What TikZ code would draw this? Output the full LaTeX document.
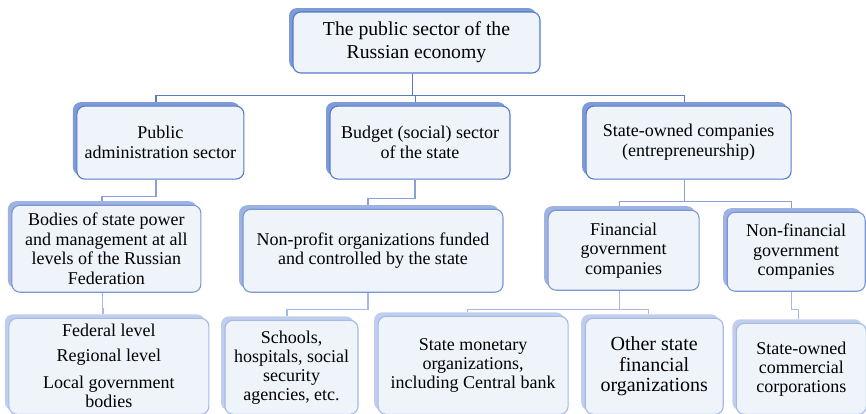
\documentclass[tikz,border=0pt]{standalone}
\usepackage{fontspec}
\setmainfont{Liberation Serif}
\usetikzlibrary{positioning,shadows}
\definecolor{paleblue}{RGB}{239,243,250}
\definecolor{darkedge}{RGB}{86,122,200}
\definecolor{darkshade}{RGB}{125,155,215}
\definecolor{midedge}{RGB}{122,150,212}
\definecolor{midshade}{RGB}{158,179,226}
\definecolor{lightedge}{RGB}{165,185,228}
\definecolor{lightshade}{RGB}{192,206,237}

\begin{document}
\begin{tikzpicture}[
			box/.style={draw, rectangle, fill=paleblue, rounded corners=8pt, align=center, line width=1.1pt, inner sep=2pt},
			topBox/.style={box, draw=darkedge, drop shadow={shadow xshift=-4pt, shadow yshift=4pt, fill=darkshade, opacity=1}, font=\fontsize{19.7}{23}\selectfont},
			secBox/.style={topBox, minimum height=73pt, font=\fontsize{18}{20}\selectfont},
			subBox/.style={box, draw=midedge, drop shadow={shadow xshift=-4pt, shadow yshift=4pt, fill=midshade, opacity=1}, font=\fontsize{18}{19.5}\selectfont},
			leafBox/.style={box, draw=lightedge, drop shadow={shadow xshift=-4pt, shadow yshift=4pt, fill=lightshade, opacity=1}, font=\fontsize{18}{19}\selectfont},
			linkTop/.style={draw=darkedge, line width=1.2pt},
			linkMid/.style={draw=midedge!90, line width=1.2pt},
			linkLow/.style={draw=lightedge, line width=1.2pt},
			]
			\useasboundingbox (0,0) rectangle (866pt,-413pt);
			
			\draw node[topBox, minimum width=247pt, minimum height=61pt] (root) at (416.5pt,-42.5pt) {The public sector of the\\Russian economy};
			
			%
			\draw node[secBox, minimum width=167pt][below left=32pt and 48pt of root] (pub) {Public\\administration sector};
			\draw node[secBox, minimum width=180pt][below=32pt of root, xshift=3.5pt] (bud) {Budget (social) sector\\of the state};
			\draw node[secBox, minimum width=205pt][below right=32pt and 45pt of root] (sta) {State-owned companies\\(entrepreneurship)};
			
			%
			\draw node[subBox, minimum width=189pt, minimum height=87pt][below=25pt of pub, xshift=-54pt] (bodies) {Bodies of state power\\and management at all\\levels of the Russian\\Federation};
			\draw node[subBox, minimum width=260pt, minimum height=83pt][below=29pt of bud, xshift=-47pt] (nonprofit) {Non-profit organizations funded\\and controlled by the state};
			\draw node[subBox, minimum width=151pt, minimum height=80pt][below=30pt of sta, xshift=-65pt] (fin) {Financial\\government\\companies};
			\draw node[subBox, minimum width=138pt, minimum height=79pt][right=27pt of fin, yshift=-1.5pt] (nonfin) {Non-financial\\government\\companies};
			
			%
			\draw node[leafBox, minimum width=200pt, minimum height=96pt][below=25pt of bodies, xshift=2.5pt] (federal) {Federal level\\[6pt]Regional level\\[8pt]Local government\\bodies};
			\draw node[leafBox, minimum width=133pt, minimum height=94pt][below=27pt of nonprofit, xshift=-81.5pt] (schools) {Schools,\\hospitals, social\\security\\agencies, etc.};
			\draw node[leafBox, minimum width=190pt, minimum height=98pt][right=19pt of schools.south east, anchor=south west] (monetary) {State monetary\\organizations,\\including Central bank};
			\draw node[leafBox, minimum width=138pt, minimum height=96pt, font=\fontsize{20}{20.5}\selectfont][right=16pt of monetary.south east, anchor=south west] (other) {Other state\\financial\\organizations};
			\draw node[leafBox, minimum width=130pt, minimum height=91pt][right=12pt of other.south east, anchor=south west] (commercial) {State-owned\\commercial\\corporations};
			
			% Links
			\foreach \n in {pub,bud,sta}
			\draw [linkTop] ([xshift=-4pt]root.south) -- ++(0,-22pt) -| ([xshift=-4.5pt,yshift=4pt]\n.north);
			
			\draw [linkMid] ([xshift=-4.5pt]pub.south) -- ++(0,-17pt) -| ([xshift=-4.5pt,yshift=4pt]bodies.north);
			\draw [linkMid] ([xshift=-5pt]bud.south) -- ++(0,-19pt) -| ([xshift=-5pt,yshift=4pt]nonprofit.north);
			\foreach \n in {fin,nonfin}
			\draw [linkMid] ([xshift=-4.5pt]sta.south) -- ++(0,-22pt) -| ([xshift=-4.5pt,yshift=4pt]\n.north);
			
			\draw [linkLow] ([xshift=-4pt]bodies.south) -- ++(0,-16pt) -| ([xshift=-6pt,yshift=4pt]federal.north);
			\draw [linkLow] ([xshift=-5pt]nonprofit.south) -- ++(0,-16.5pt) -| ([xshift=-4.5pt,yshift=4pt]schools.north);
			\foreach \n in {monetary,other}
			\draw [linkLow] ([xshift=-4.5pt]fin.south) -- ++(0,-18.5pt) -| ([xshift=-6pt,yshift=4pt]\n.north);
			\draw [linkLow] ([xshift=-5pt]nonfin.south) -- ++(0,-18pt) -| ([xshift=-3pt,yshift=4pt]commercial.north);
			
		\end{tikzpicture}
\end{document}
